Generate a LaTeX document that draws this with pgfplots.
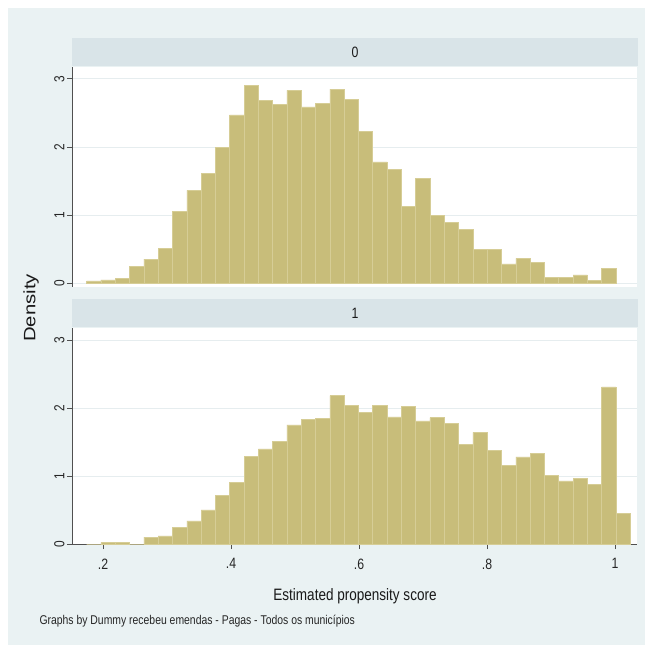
\documentclass[border=0pt]{standalone}
\usepackage{pgfplots}
\pgfplotsset{compat=1.18}
\usepackage{fontspec}
\setmainfont{Liberation Sans}[FakeStretch=0.82]
\definecolor{bgc}{RGB}{234,242,243}
\definecolor{stripc}{RGB}{217,228,232}
\definecolor{barc}{RGB}{200,189,122}
\definecolor{barl}{RGB}{214,205,150}
\definecolor{gridc}{RGB}{230,237,239}
\definecolor{axc}{RGB}{80,80,80}

\pgfplotstableread{
x h
0.185675 0.03
0.208025 0.045
0.230375 0.07
0.252725 0.24
0.275075 0.35
0.297425 0.51
0.319775 1.05
0.342125 1.36
0.364475 1.61
0.386825 1.99
0.409175 2.47
0.431525 2.91
0.453875 2.68
0.476225 2.63
0.498575 2.83
0.520925 2.59
0.543275 2.64
0.565625 2.85
0.587975 2.70
0.610325 2.23
0.632675 1.78
0.655025 1.67
0.677375 1.12
0.699725 1.54
0.722075 0.99
0.744425 0.89
0.766775 0.79
0.789125 0.49
0.811475 0.49
0.833825 0.28
0.856175 0.36
0.878525 0.30
0.900875 0.08
0.923225 0.08
0.945575 0.12
0.967925 0.04
0.990275 0.21
}\groupzero

\pgfplotstableread{
x h
0.185675 0.0
0.208025 0.02
0.230375 0.02
0.252725 0.0
0.275075 0.10
0.297425 0.12
0.319775 0.24
0.342125 0.34
0.364475 0.50
0.386825 0.72
0.409175 0.91
0.431525 1.29
0.453875 1.40
0.476225 1.51
0.498575 1.75
0.520925 1.83
0.543275 1.85
0.565625 2.18
0.587975 2.04
0.610325 1.94
0.632675 2.04
0.655025 1.87
0.677375 2.02
0.699725 1.81
0.722075 1.86
0.744425 1.77
0.766775 1.47
0.789125 1.64
0.811475 1.38
0.833825 1.16
0.856175 1.28
0.878525 1.33
0.900875 1.01
0.923225 0.93
0.945575 0.96
0.967925 0.88
0.990275 2.31
1.012625 0.45
}\groupone

\pgfplotsset{
  panel/.style={
    scale only axis, width=565pt,
    xmin=0.1516, xmax=1.0344,
    ytick={0,1,2,3},
    ymajorgrids, grid style={gridc, line width=0.8pt},
    axis y line*=left,
    axis line style={axc, line width=0.8pt},
    tick style={axc, line width=0.8pt},
    major tick length=5pt,
    tick align=outside,
    /pgf/number format/assume math mode=true,
    yticklabel style={rotate=90, anchor=south, xshift=0pt, yshift=-1pt, font=\fontsize{14.5}{16}\selectfont, text=black!85},
    xticklabel style={yshift=-6pt, font=\fontsize{15}{16}\selectfont, text=black!85},
    axis background/.style={fill=white},
    ybar, bar shift=0pt, bar width=0.02235,
  },
}

\begin{document}
\begin{tikzpicture}[x=1pt,y=1pt]
\useasboundingbox (0,0) rectangle (653,651);
\fill[white] (0,0) rectangle (653,651);
\fill[bgc] (8,6) rectangle (645,643);
% strips
\fill[stripc] (72,585) rectangle (638,613);
\node[font=\fontsize{15}{16}\selectfont, text=black!90] at (355,599) {0};
\fill[stripc] (72,324) rectangle (638,352);
\node[font=\fontsize{15}{16}\selectfont, text=black!90] at (355,338) {1};

\begin{axis}[panel, at={(72pt,364pt)}, anchor=south west, height=220pt,
  ymin=-0.06, ymax=3.175, axis x line=none]
\addplot[fill=barc, draw=barl, line width=0.5pt] table[x=x,y=h] {\groupzero};
\end{axis}

\begin{axis}[panel, at={(72pt,107pt)}, anchor=south west, height=216pt,
  ymin=0, ymax=3.176, axis x line*=bottom,
  xtick={0.2,0.4,0.6,0.8,1}, xticklabels={.2,.4,.6,.8,1}]
\addplot[fill=barc, draw=barl, line width=0.5pt] table[x=x,y=h] {\groupone};
\end{axis}

\node[font=\fontsize{16.5}{18}\selectfont, text=black!90, rotate=90] at (31,343) {\scalebox{1.5}[1]{Density}};
\node[font=\fontsize{16.5}{18}\selectfont, text=black!90] at (355,55) {Estimated propensity score};
\node[font=\fontsize{12.7}{14}\selectfont, text=black!85, anchor=west] at (36,30) {Graphs by Dummy recebeu emendas - Pagas - Todos os municípios};
\end{tikzpicture}
\end{document}
